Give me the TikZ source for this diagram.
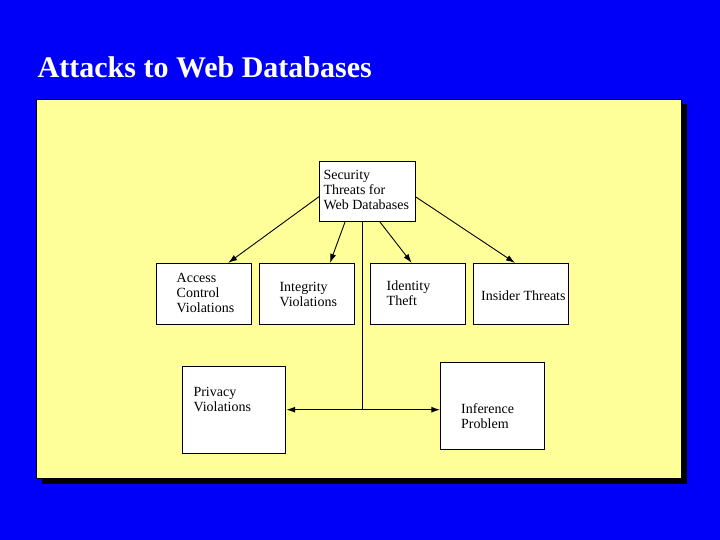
\documentclass[tikz,border=0pt]{standalone}
\usepackage{fontspec}
\setmainfont{Liberation Serif}
\usetikzlibrary{arrows.meta}
\definecolor{slideblue}{RGB}{0,0,250}
\definecolor{panelyellow}{RGB}{255,255,153}
\tikzset{
  box/.style={draw=black, fill=white, line width=0.8pt, inner sep=0pt},
  txt/.style={inner sep=0pt, align=left, font=\fontsize{14}{15}\selectfont, text=black},
  conn/.style={draw=black, line width=0.9pt, -{Latex[length=9pt,width=6pt]}},
}
\begin{document}
\begin{tikzpicture}[x=1pt,y=-1pt]
\fill[slideblue] (0,0) rectangle (720,540);
\useasboundingbox (0,0) rectangle (720,540);
\node[anchor=base west, inner sep=0pt, text=white, font=\bfseries\fontsize{30}{31}\selectfont] (title) at (37.5,77.5) {Attacks to Web Databases};
% panel with shadow
\fill[black] (41.5,104.5) rectangle (687,484);
\filldraw[fill=panelyellow, draw=black, line width=0.6pt] (36,99) rectangle (681,478);
% boxes
\node[box, minimum width=95.7pt, minimum height=60.7pt] (sec) at (367.2,191.3) {};
\node[box, minimum width=95pt, minimum height=61pt] (acc) at (204.2,293.8) {};
\node[box, minimum width=95pt, minimum height=61pt] (int) at (306.8,293.8) {};
\node[box, minimum width=95pt, minimum height=61pt] (ide) at (418.2,293.8) {};
\node[box, minimum width=95pt, minimum height=61pt] (ins) at (520.8,293.8) {};
\node[box, minimum width=103.4pt, minimum height=86.6pt] (priv) at (234,410) {};
\node[box, minimum width=103.6pt, minimum height=86.7pt] (inf) at (492.5,405.7) {};
% texts (base = last line)
\node[txt, anchor=base west] (sect) at (323.3,209.5) {Security\\Threats for\\Web Databases};
\node[txt, anchor=base west] (acct) at (176.5,312.7) {Access\\Control\\Violations};
\node[txt, anchor=base west] (intt) at (279.3,306.7) {Integrity\\Violations};
\node[txt, anchor=base west] (idet) at (386.5,305.5) {Identity\\Theft};
\node[txt, anchor=base west] (inst) at (481,300.7) {Insider Threats};
\node[txt, anchor=base west] (privt) at (193.3,411.7) {Privacy\\Violations};
\node[txt, anchor=base west] (inft) at (461,428.3) {Inference\\Problem};
% connectors
\draw[conn] ([yshift=-5.4pt]sec.west) -- ([xshift=24pt]acc.north);
\draw[conn] ([xshift=-22.2pt]sec.south) -- ([xshift=23.2pt]int.north);
\draw[conn] ([xshift=12.8pt]sec.south) -- ([xshift=-6.5pt]ide.north);
\draw[conn] ([yshift=-5.4pt]sec.east) -- ([xshift=-5.8pt]ins.north);
\coordinate (j) at (362.5,409.7);
\draw[draw=black, line width=0.9pt] (sec.south -| j) -- (j);
\draw[draw=black, line width=1.3pt, {Latex[length=9pt,width=6pt]}-{Latex[length=9pt,width=6pt]}] (priv.east |- j) -- (inf.west |- j);
\end{tikzpicture}
\end{document}
